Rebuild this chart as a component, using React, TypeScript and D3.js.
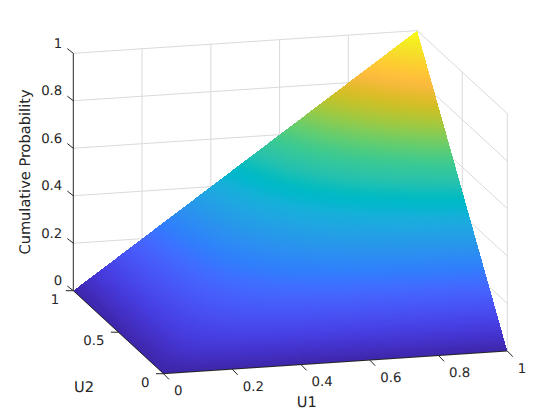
import React from "react";
import * as d3 from "d3";

const gridU = [0, 0.1111, 0.2222, 0.3333, 0.4444, 0.5556, 0.6667, 0.7778, 0.8889, 1];

// cumulative probability, one row per U2, one column per U1
const probRow0 = [0, 0, 0, 0, 0, 0, 0, 0, 0, 0];
const probRow1 = [0, 0.0588, 0.08, 0.0909, 0.0976, 0.102, 0.1053, 0.1077, 0.1096, 0.1111];
const probRow2 = [0, 0.08, 0.125, 0.1538, 0.1739, 0.1887, 0.2, 0.209, 0.2162, 0.2222];
const probRow3 = [0, 0.0909, 0.1538, 0.2, 0.2353, 0.2632, 0.2857, 0.3043, 0.32, 0.3333];
const probRow4 = [0, 0.0976, 0.1739, 0.2353, 0.2857, 0.3279, 0.3636, 0.3944, 0.4211, 0.4444];
const probRow5 = [0, 0.102, 0.1887, 0.2632, 0.3279, 0.3846, 0.4348, 0.4795, 0.5195, 0.5556];
const probRow6 = [0, 0.1053, 0.2, 0.2857, 0.3636, 0.4348, 0.5, 0.56, 0.6154, 0.6667];
const probRow7 = [0, 0.1077, 0.209, 0.3043, 0.3944, 0.4795, 0.56, 0.6364, 0.7089, 0.7778];
const probRow8 = [0, 0.1096, 0.2162, 0.32, 0.4211, 0.5195, 0.6154, 0.7089, 0.8, 0.8889];
const probRow9 = [0, 0.1111, 0.2222, 0.3333, 0.4444, 0.5556, 0.6667, 0.7778, 0.8889, 1];
const probRows = [probRow0, probRow1, probRow2, probRow3, probRow4, probRow5, probRow6, probRow7, probRow8, probRow9];

const u1Ticks = [0, 0.2, 0.4, 0.6, 0.8, 1];
const u2Ticks = [0, 0.5, 1];
const zTicks = [0, 0.2, 0.4, 0.6, 0.8, 1];

// parula
const parula = [
  "#3e26a8", "#402ab4", "#422ec0", "#4432cb", "#4537d5", "#463cde", "#4741e5", "#4747eb",
  "#484df0", "#4852f4", "#4758f8", "#465dfb", "#4563fd", "#4269fe", "#3e6fff", "#3875fe",
  "#327cfc", "#2f81fa", "#2d87f7", "#2d8cf3", "#2b91ef", "#2796eb", "#259be7", "#23a0e5",
  "#20a5e3", "#1ca9df", "#18addb", "#12b1d6", "#08b5d0", "#01b8ca", "#02bac3", "#0bbdbc",
  "#19bfb6", "#24c1ae", "#2cc3a7", "#31c69f", "#37c897", "#3fca8e", "#4acb84", "#57cc7a",
  "#63cd6f", "#71cc64", "#80cc59", "#8fcb4e", "#9dc942", "#abc739", "#b9c431", "#c5c22a",
  "#d1bf27", "#dcbd29", "#e6bb2d", "#efba36", "#f8ba3d", "#febe3c", "#fec338", "#fec934",
  "#fccf30", "#f9d62d", "#f7dc2a", "#f5e327", "#f5e924", "#f6ef20", "#f7f51b", "#f9fb15",
];
const colorAt = d3.piecewise(d3.interpolateRgb, parula);

const originX = 163.5;
const originY = 373.7;
const u1X = d3.scaleLinear().domain([0, 1]).range([0, 343.8]);
const u1Y = d3.scaleLinear().domain([0, 1]).range([0, -22.7]);
const u2X = d3.scaleLinear().domain([0, 1]).range([0, -90.2]);
const u2Y = d3.scaleLinear().domain([0, 1]).range([0, -83]);
const zY = d3.scaleLinear().domain([0, 1]).range([0, -237.4]);

const project = (u1: number, u2: number, z: number): [number, number] => [
  originX + u1X(u1) + u2X(u2),
  originY + u1Y(u1) + u2Y(u2) + zY(z),
];

const seg = (a: [number, number], b: [number, number]) => ({ x1: a[0], y1: a[1], x2: b[0], y2: b[1] });

const SUB = 16;

function buildSurface() {
  const polys: { points: string; fill: string }[] = [];
  for (let j = gridU.length - 2; j >= 0; j--) {
    for (let i = 0; i < gridU.length - 1; i++) {
      const z00 = probRows[j][i];
      const z10 = probRows[j][i + 1];
      const z01 = probRows[j + 1][i];
      const z11 = probRows[j + 1][i + 1];
      const zAt = (s: number, t: number) =>
        z00 * (1 - s) * (1 - t) + z10 * s * (1 - t) + z01 * (1 - s) * t + z11 * s * t;
      const pt = (s: number, t: number) =>
        project(
          gridU[i] + (gridU[i + 1] - gridU[i]) * s,
          gridU[j] + (gridU[j + 1] - gridU[j]) * t,
          zAt(s, t),
        );
      for (let b = SUB - 1; b >= 0; b--) {
        for (let a = 0; a < SUB; a++) {
          const s0 = a / SUB;
          const s1 = (a + 1) / SUB;
          const t0 = b / SUB;
          const t1 = (b + 1) / SUB;
          polys.push({
            points: [pt(s0, t0), pt(s1, t0), pt(s1, t1), pt(s0, t1)].map((p) => p.join(",")).join(" "),
            fill: colorAt(zAt((s0 + s1) / 2, (t0 + t1) / 2)),
          });
        }
      }
    }
  }
  return polys;
}

export default function App() {
  const surface = React.useMemo(buildSurface, []);
  const gridColor = "#dadada";
  const axisColor = "#262626";
  const font = "'DejaVu Sans', sans-serif";

  return (
    <svg
      width={560}
      height={420}
      style={{ position: "absolute", left: 0, top: 0, background: "#fff" }}
      fontFamily={font}
      textRendering="geometricPrecision"
    >
      <g stroke={gridColor} strokeWidth={1} fill="none">
        {u1Ticks.slice(1).map((u) => (
          <line key={"bv" + u} {...seg(project(u, 1, 0), project(u, 1, 1))} />
        ))}
        {u2Ticks.slice(0, 2).map((u) => (
          <line key={"rv" + u} {...seg(project(1, u, 0), project(1, u, 1))} />
        ))}
        {zTicks.slice(1).map((z) => (
          <g key={"h" + z}>
            <line {...seg(project(0, 1, z), project(1, 1, z))} />
            <line {...seg(project(1, 1, z), project(1, 0, z))} />
          </g>
        ))}
      </g>

      <g shapeRendering="crispEdges">
        {surface.map((p, i) => (
          <polygon key={i} points={p.points} fill={p.fill} />
        ))}
      </g>

      <g stroke={axisColor} strokeWidth={1} fill="none">
        <line {...seg(project(0, 1, 0), project(0, 1, 1))} />
        <line {...seg(project(0, 1, 0), project(0, 0, 0))} />
        <line {...seg(project(0, 0, 0), project(1, 0, 0))} />
        {zTicks.map((z) => {
          const [x, y] = project(0, 1, z);
          return <line key={"zt" + z} x1={x} y1={y} x2={x - 6} y2={y - 4.7} />;
        })}
        {u1Ticks.map((u) => {
          const [x, y] = project(u, 0, 0);
          return <line key={"u1t" + u} x1={x} y1={y} x2={x + 5.5} y2={y + 5.7} />;
        })}
        {u2Ticks.map((u) => {
          const [x, y] = project(0, u, 0);
          return <line key={"u2t" + u} x1={x} y1={y} x2={x - 7.5} y2={y} />;
        })}
      </g>

      <g fill={axisColor} fontSize={13.3} dominantBaseline="central">
        {zTicks.map((z) => {
          const [x, y] = project(0, 1, z);
          return (
            <text key={"zl" + z} x={x - 11} y={y - 9} textAnchor="end">
              {z}
            </text>
          );
        })}
        {u1Ticks.map((u) => {
          const [x, y] = project(u, 0, 0);
          return (
            <text key={"u1l" + u} x={x + 10.5} y={y + 18}>
              {u}
            </text>
          );
        })}
        {u2Ticks.map((u) => {
          const [x, y] = project(0, u, 0);
          return (
            <text key={"u2l" + u} x={x - 14} y={y + 9.5} textAnchor="end">
              {u}
            </text>
          );
        })}
      </g>

      <g fill={axisColor} fontSize={14.6} textAnchor="middle" dominantBaseline="central">
        <text x={306.7} y={402.5}>U1</text>
        <text x={84} y={387.5}>U2</text>
        <text x={25} y={172} transform="rotate(-90 25 172)">Cumulative Probability</text>
      </g>
    </svg>
  );
}
